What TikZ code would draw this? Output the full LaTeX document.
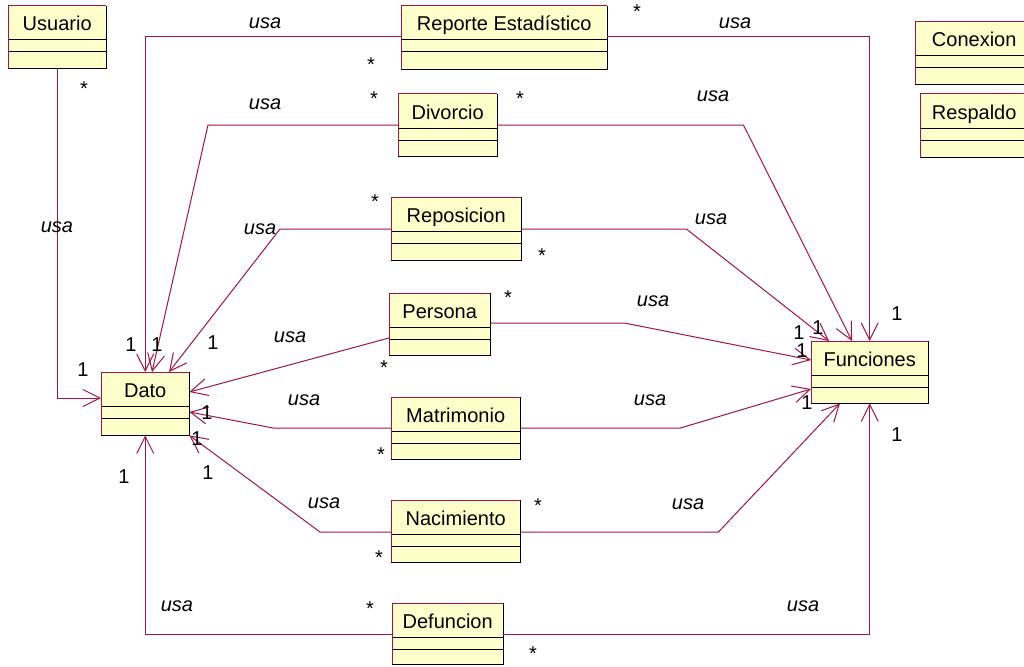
\documentclass[tikz,border=0pt]{standalone}
\usepackage{fontspec}
\setmainfont{Liberation Sans}
\usetikzlibrary{arrows.meta,calc}
\definecolor{assocred}{RGB}{160,20,70}
\definecolor{classfill}{RGB}{255,255,204}
\begin{document}
\begin{tikzpicture}[x=1pt,y=-1pt,
  every node/.style={font=\fontsize{20}{24}\selectfont, inner sep=0pt},
  classbox/.style={fill=classfill, draw=none, rectangle, anchor=north west},
  assoc/.style={draw=assocred, line width=1pt, -{Straight Barb[length=17pt,width=17pt]}},
  usa/.style={font=\fontsize{20}{24}\selectfont\itshape, anchor=base},
  mult/.style={anchor=base},
]
\clip (0,0) rectangle (1024,666);
\fill[white] (0,0) rectangle (1024,666);

% classes: name / left / top / right / bottom / title
\foreach \n/\xa/\ya/\xb/\yb/\t in {
  usuario/8/6/106/68/Usuario,
  reporte/401/6/607/69/Reporte Estadístico,
  conexion/915/22/1033/84/Conexion,
  respaldo/920/94/1028/157/Respaldo,
  divorcio/398/94/497/156/Divorcio,
  reposicion/391/197/521/260/Reposicion,
  persona/389/293/490/355/Persona,
  dato/101/372/189/435/Dato,
  funciones/811/341/928/403/Funciones,
  matrimonio/391/397/520/459/Matrimonio,
  nacimiento/391/500/520/562/Nacimiento,
  defuncion/392/603/503/664/Defuncion}
{
  \node[classbox, minimum width={(\xb-\xa)*1pt}, minimum height={(\yb-\ya)*1pt}] (\n) at (\xa,\ya) {};
  \node[anchor=base] (\n-name) at ($(\n.north)+(0,25)$) {\t};
  \draw[black, line width=1pt]
    ($(\n.north west)+(0,34)$) -- ($(\n.north east)+(0,34)$)
    ($(\n.north west)+(0,46)$) -- ($(\n.north east)+(0,46)$);
  \draw[black, line width=1.6pt] (\n.north east) -- (\n.south east) -- (\n.south west);
  \draw[assocred, line width=1pt] (\n.south west) -- (\n.north west) -- (\n.north east);
}

% associations towards Dato
\draw[assoc] (usuario.south) |- ($(dato.north west)+(0,26)$);
\draw[assoc] ($(reporte.north west)+(0,31)$) -| (dato.north);
\draw[assoc] ($(divorcio.north west)+(0,31)$) -- ++(-190,0) -- ($(dato.north west)+(51,0)$);
\draw[assoc] ($(reposicion.north west)+(0,32)$) -- ++(-111,0) -- ($(dato.north west)+(68,0)$);
\draw[assoc] ($(persona.north west)+(0,45)$) -- ($(dato.north east)+(0,20)$);
\draw[assoc] ($(matrimonio.north west)+(0,31)$) -- ++(-118,0) -- ($(dato.north east)+(0,40)$);
\draw[assoc] ($(nacimiento.north west)+(0,32)$) -- ++(-71,0) -- (dato.south east);
\draw[assoc] ($(defuncion.north west)+(0,31)$) -| (dato.south);

% associations towards Funciones
\draw[assoc] ($(reporte.north east)+(0,31)$) -| (funciones.north);
\draw[assoc] ($(divorcio.north east)+(0,31)$) -- ++(246,0) -- ($(funciones.north west)+(41,0)$);
\draw[assoc] ($(reposicion.north east)+(0,32)$) -- ++(165,0) -- ($(funciones.north west)+(18,0)$);
\draw[assoc] ($(persona.north east)+(0,30)$) -- ++(134,0) -- ($(funciones.north west)+(0,19)$);
\draw[assoc] ($(matrimonio.north east)+(0,31)$) -- ++(160,0) -- ($(funciones.north west)+(0,48)$);
\draw[assoc] ($(nacimiento.north east)+(0,32)$) -- ++(198,0) -- ($(funciones.south west)+(29,0)$);
\draw[assoc] ($(defuncion.north east)+(0,31)$) -| (funciones.south);

% association names
\foreach \x/\y [count=\i] in {265/22, 735/22, 57/225, 265/103, 713/95, 260/227,
    711/217, 290/335, 653/299, 304/398, 650/398, 324/501, 688/502, 177/604, 803/604}
  \node[usa] (usa\i) at (\x,\y+7) {usa};

% multiplicities
\foreach \x/\y [count=\i] in {637/7, 371/60, 84/84, 374/94, 520/94, 375/197, 542/251,
    508/293, 384/363, 381/450, 538/501, 379/553, 370/604, 533/649}
  \node[mult] (many\i) at (\x,\y+11.5) {*};
\foreach \x/\y [count=\i] in {83/369, 131/344, 157/344, 213/342, 207/412, 197/438,
    208/472, 124/476, 799/332, 818/327, 802/350, 807/402, 897/313, 897/434}
  \node[mult] (one\i) at (\x,\y+7) {1};
\end{tikzpicture}
\end{document}
